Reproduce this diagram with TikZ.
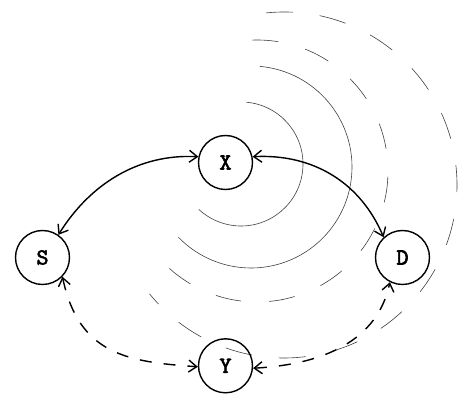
\documentclass[tikz,border=0pt]{standalone}
\usepackage{fontspec}
\newfontfamily\labfont{lmmono10-regular.otf}[FakeBold=2.5]
\usetikzlibrary{arrows.meta}
\begin{document}
\begin{tikzpicture}[x=1pt,y=1pt,
  station/.style={circle,draw,line width=1.4pt,minimum size=54pt,inner sep=0pt,
    font=\labfont\bfseries\fontsize{23}{23}\selectfont},
  wave/.style={line width=0.6pt,black!75},
  dwave/.style={wave,dash pattern=on 27pt off 27pt},
  link/.style={line width=1.4pt,{Straight Barb[length=8pt,width=12pt]}-{Straight Barb[length=8pt,width=12pt]}},
  dlink/.style={link,dash pattern=on 12pt off 12pt}]
\useasboundingbox (0,0) rectangle (459,394);
% radio waves
\draw[wave] (241,230) ++(85:62pt) arc[start angle=85,end angle=-133,radius=62pt];
\draw[wave] (251,227) ++(85:101pt) arc[start angle=85,end angle=-136,radius=101pt];
\draw[dwave,dash pattern=on 26pt off 28pt] (257,223) ++(92:131pt) arc[start angle=92,end angle=-134,radius=131pt];
\draw[dwave] (284,209) ++(96:173pt) arc[start angle=96,end angle=-141,radius=173pt];
% stations
\node[station] (X) at (225.5,231.5) {X};
\node[station] (S) at (42.5,136.5) {S};
\node[station] (D) at (402.5,136.5) {D};
\node[station] (Y) at (225.5,28.2) {Y};
% links
\draw[link] (S.55) .. controls +(58:60pt) and +(177:60pt) .. (X.168);
\draw[link] (X.12) .. controls +(3:60pt) and +(113:60pt) .. (D.133);
\draw[dlink] (S.-44) .. controls +(-78:80pt) and +(176:70pt) .. (Y.182);
\draw[dlink] (Y.-5) .. controls +(3:70pt) and +(-102:60pt) .. (D.-117);
\end{tikzpicture}
\end{document}
